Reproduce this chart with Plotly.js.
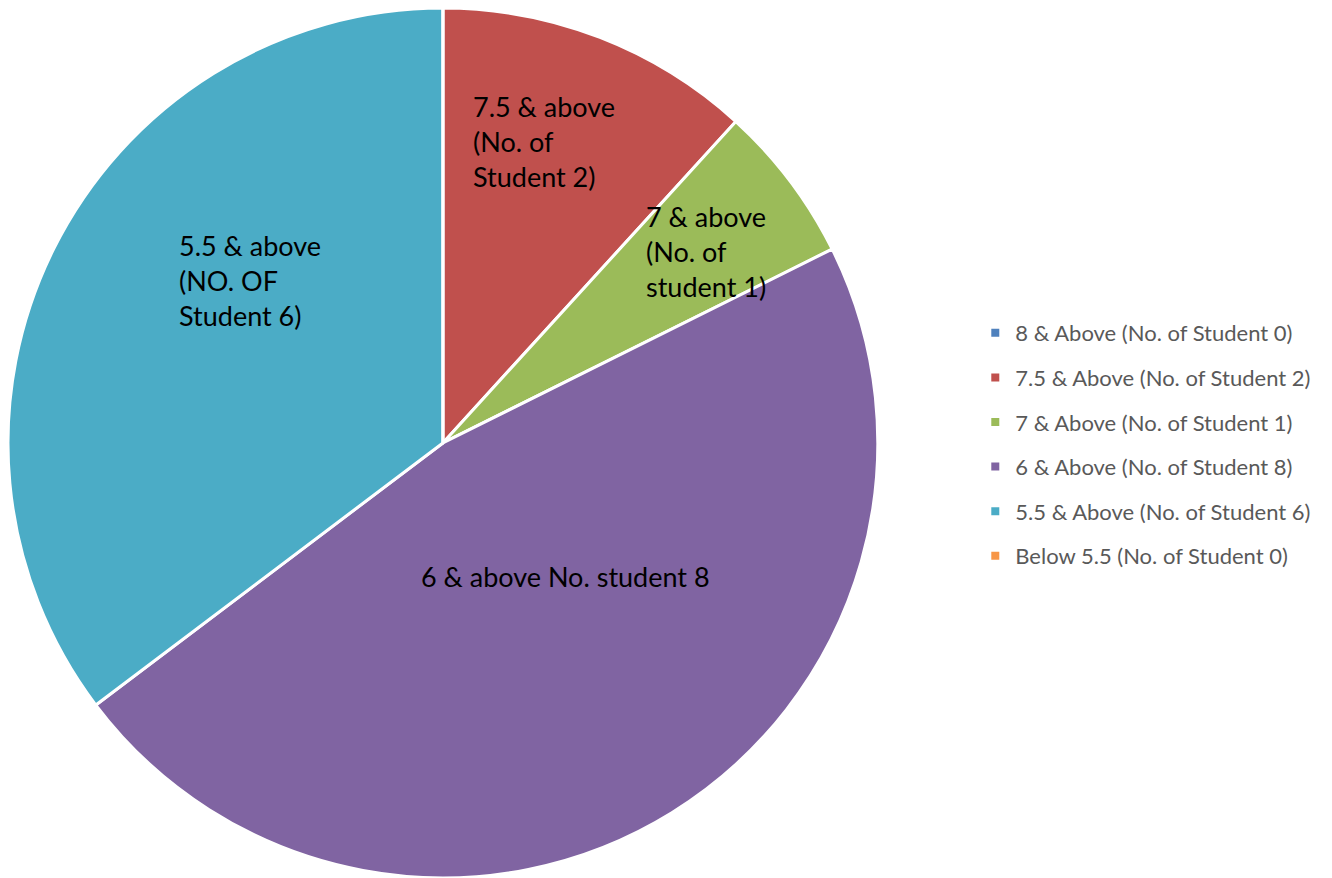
<!DOCTYPE html>
<html><head><meta charset="utf-8">
<script src="https://cdn.plot.ly/plotly-3.0.1.min.js"></script>
<style>html,body{margin:0;padding:0;background:#fff}#chart{width:1332px;height:878px}</style>
</head><body><div id="chart"></div>
<script>
const categories = [
  "8 & Above (No. of Student 0)",
  "7.5 & Above (No. of Student 2)",
  "7 & Above (No. of Student 1)",
  "6 & Above (No. of Student 8)",
  "5.5 & Above (No. of Student 6)",
  "Below 5.5 (No. of Student 0)"
];
const students = [0, 2, 1, 8, 6, 0];
const colors = ["#4F81BD", "#C0504D", "#9BBB59", "#8064A2", "#4BACC6", "#F79646"];
const sliceLabels = [
  "",
  "7.5 & above<br>(No. of<br>Student 2)",
  "7 & above<br>(No. of<br>student 1)",
  "6 & above No. student 8",
  "5.5 & above<br>(NO. OF<br>Student 6)",
  ""
];

const W = 1332, H = 878;
// label anchor positions in pixels (left/top of text block)
const labelPos = [null, [471, 88, 'left'], [644, 198, 'left'], [565, 576, 'center'], [177, 227, 'left'], null];

const annotations = [];
sliceLabels.forEach((t, i) => {
  if (!t) return;
  const p = labelPos[i];
  annotations.push({
    text: t, xref: 'paper', yref: 'paper',
    x: p[0] / W, y: 1 - p[1] / H,
    xanchor: p[2], yanchor: p[2] === 'center' ? 'middle' : 'top',
    align: 'left', showarrow: false,
    font: {family: 'Lato, "Open Sans", sans-serif', size: 27, color: '#000'}
  });
});

const data = [{
  type: 'pie',
  labels: categories,
  values: students,
  sort: false,
  direction: 'clockwise',
  rotation: 0,
  textinfo: 'none',
  hoverinfo: 'label+value',
  showlegend: false,
  marker: {colors: colors, line: {color: '#ffffff', width: 3}},
  domain: {x: [0.006, 0.659], y: [0.0, 0.991]}
}];

// legend entries (one per category, no plotted points)
categories.forEach((c, i) => {
  data.push({
    type: 'scatter', mode: 'markers', x: [null], y: [null],
    name: c, legendgroup: 'g' + i, showlegend: true, hoverinfo: 'skip',
    marker: {symbol: 'square', size: 8, color: colors[i]}
  });
});

const layout = {
  width: W, height: H,
  margin: {l: 0, r: 0, t: 0, b: 0},
  paper_bgcolor: '#fff',
  plot_bgcolor: 'rgba(0,0,0,0)',
  xaxis: {visible: false, domain: [0.7, 0.71]},
  yaxis: {visible: false},
  showlegend: true,
  legend: {
    x: 0.7322, y: 1 - 444.5 / H, xanchor: 'left', yanchor: 'middle',
    traceorder: 'grouped', tracegroupgap: 13,
    font: {family: 'Lato, "Open Sans", sans-serif', size: 22, color: '#595959'},
    itemwidth: 30
  },
  annotations: annotations
};

Plotly.newPlot('chart', data, layout, {displayModeBar: false});
</script></body></html>
